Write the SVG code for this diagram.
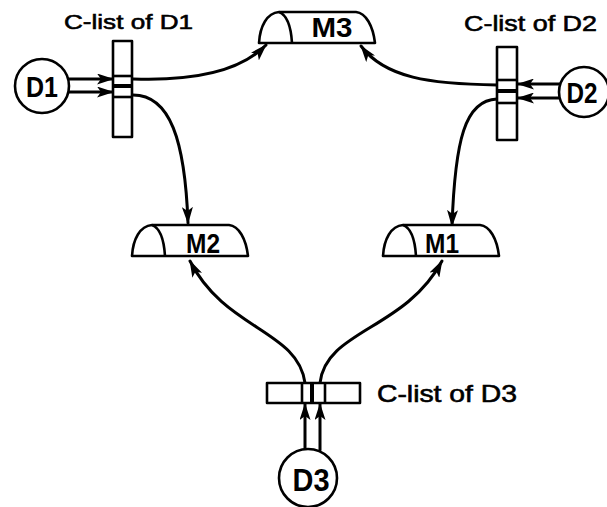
<svg xmlns="http://www.w3.org/2000/svg" width="607" height="507" viewBox="0 0 607 507">
<style>
.ln{fill:none;stroke:#000;stroke-width:3;stroke-linecap:round}
.ol{fill:#fff;stroke:#000;stroke-width:2.6;stroke-linejoin:round}
.in{fill:none;stroke:#000;stroke-width:2.6}
.lbl{font-family:"Liberation Sans",Arial,sans-serif;fill:#000;stroke:#000;stroke-width:0.6}
.nm{font-family:"Liberation Sans",Arial,sans-serif;font-weight:bold;fill:#000;text-anchor:middle}
</style>
<defs>
<marker id="ah" viewBox="0 0 17 11" refX="16" refY="5.5" markerWidth="17" markerHeight="11" markerUnits="userSpaceOnUse" orient="auto">
<path d="M0,0 L17,5.5 L0,11 L4,5.5 Z" fill="#000"/>
</marker>
<g id="mshape">
<path class="ol" d="M0,31 C1,14 8,1 20,0 L97,0 C107,1 114,14 116,31 Z"/>
<path class="in" d="M20,0 C28,3 32,15 33,31"/>
</g>
</defs>
<rect width="607" height="507" fill="#fff"/>

<g id="connectors">
<path class="ln" d="M67,79 L113,79" marker-end="url(#ah)"/>
<path class="ln" d="M67,92 L113,92" marker-end="url(#ah)"/>
<path class="ln" d="M560,84 L518,84" marker-end="url(#ah)"/>
<path class="ln" d="M560,98 L518,98" marker-end="url(#ah)"/>
<path class="ln" d="M305,450 L305,404" marker-end="url(#ah)"/>
<path class="ln" d="M320,450 L320,404" marker-end="url(#ah)"/>
<path class="ln" d="M133,79 C190,81 240,72 266,45" marker-end="url(#ah)"/>
<path class="ln" d="M133,95 C170,95 185,140 188,223" marker-end="url(#ah)"/>
<path class="ln" d="M497,85 C430,84 385,78 361,46" marker-end="url(#ah)"/>
<path class="ln" d="M497,99 C465,100 455,140 452,226" marker-end="url(#ah)"/>
<path class="ln" d="M305,383 C298,330 225,330 190,261" marker-end="url(#ah)"/>
<path class="ln" d="M320,383 C326,330 405,330 442,261" marker-end="url(#ah)"/>
</g>

<g id="D1">
<circle class="ol" cx="42" cy="86" r="27"/>
<text class="nm" x="42" y="97" font-size="30" textLength="32" lengthAdjust="spacingAndGlyphs">D1</text>
</g>
<g id="D2">
<circle class="ol" cx="584" cy="92" r="25"/>
<text class="nm" x="582" y="103" font-size="29" textLength="31" lengthAdjust="spacingAndGlyphs">D2</text>
</g>
<g id="D3">
<circle class="ol" cx="308" cy="478" r="29"/>
<text class="nm" x="311" y="491" font-size="31" textLength="37" lengthAdjust="spacingAndGlyphs">D3</text>
</g>

<g id="clist-D1">
<rect class="ol" x="113" y="41" width="19" height="96"/>
<line class="in" x1="113" y1="76" x2="132" y2="76"/>
<line x1="113" y1="86" x2="132" y2="86" stroke="#000" stroke-width="4"/>
<line class="in" x1="113" y1="97" x2="132" y2="97"/>
<text class="lbl" x="64" y="29" font-size="21" textLength="129" lengthAdjust="spacingAndGlyphs">C-list of D1</text>
</g>
<g id="clist-D2">
<rect class="ol" x="497" y="47" width="20" height="93"/>
<line class="in" x1="497" y1="80" x2="517" y2="80"/>
<line x1="497" y1="91" x2="517" y2="91" stroke="#000" stroke-width="4"/>
<line class="in" x1="497" y1="103" x2="517" y2="103"/>
<text class="lbl" x="464" y="31" font-size="22" textLength="133" lengthAdjust="spacingAndGlyphs">C-list of D2</text>
</g>
<g id="clist-D3">
<rect class="ol" x="267" y="383" width="93" height="20"/>
<line class="in" x1="302" y1="383" x2="302" y2="403"/>
<line x1="312" y1="383" x2="312" y2="403" stroke="#000" stroke-width="4"/>
<line class="in" x1="325" y1="383" x2="325" y2="403"/>
<text class="lbl" x="377" y="402" font-size="24" textLength="140" lengthAdjust="spacingAndGlyphs">C-list of D3</text>
</g>

<g id="M3">
<use href="#mshape" x="259" y="12"/>
<text class="nm" x="332" y="37" font-size="28" textLength="41" lengthAdjust="spacingAndGlyphs">M3</text>
</g>
<g id="M2">
<use href="#mshape" x="132" y="225"/>
<text class="nm" x="203" y="253" font-size="27" textLength="34" lengthAdjust="spacingAndGlyphs">M2</text>
</g>
<g id="M1">
<use href="#mshape" x="383" y="225"/>
<text class="nm" x="442" y="253" font-size="27" textLength="34" lengthAdjust="spacingAndGlyphs">M1</text>
</g>
</svg>
